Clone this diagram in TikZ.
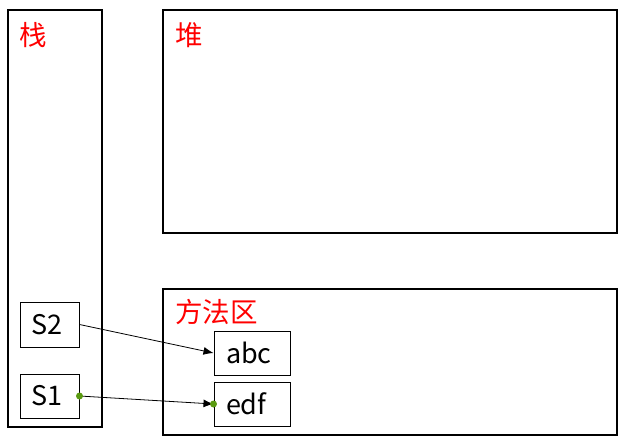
\documentclass[tikz,border=0pt]{standalone}
\usepackage{fontspec}
\setmainfont{Noto Sans CJK SC}
\usetikzlibrary{arrows.meta}
\definecolor{dotgreen}{RGB}{90,154,16}
\tikzset{
    area/.style={draw,line width=2pt},
    cell/.style={draw,line width=1pt,minimum width=59pt,minimum height=45pt,inner sep=0pt,text width=37pt,font=\fontsize{27}{29}\selectfont},
    obj/.style={cell,minimum width=76pt,minimum height=44pt,text width=52pt},
    title/.style={text=red,anchor=west,inner sep=0pt,font=\fontsize{27.5}{30}\selectfont},
    ref/.style={line width=0.8pt,-{Latex[length=10pt,width=8pt]}}
}
\begin{document}
\begin{tikzpicture}[x=1pt,y=-1pt]
    \useasboundingbox(0,0)rectangle(632,442);
    \draw[area](8,10)rectangle(102,427);
    \draw[area](163,10)rectangle(617,233);
    \draw[area](163,289)rectangle(617,435);
    \node[title](stack)at(19,35){栈};
    \node[title](heap)at(175,35){堆};
    \node[title](method)at(175,312){方法区};
    \node[cell](s2)at(49.5,324.5){S2};
    \node[cell,minimum height=44pt](s1)at(49.5,396){S1};
    \node[obj](abc)at(252,353){abc};
    \node[obj](edf)at(252,404){edf};
    \draw[ref](s2.east)--(abc.west);
    \draw[ref](s1.east)--(edf.west);
    \fill[dotgreen](s1.east)circle(3.5pt);
    \fill[dotgreen](edf.west)circle(3.5pt);
\end{tikzpicture}
\end{document}
